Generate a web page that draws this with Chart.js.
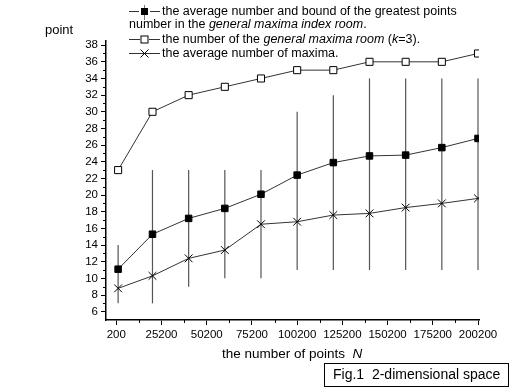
<!DOCTYPE html>
<html>
<head>
<meta charset="utf-8">
<script src="https://cdn.jsdelivr.net/npm/chart.js@4.4.0/dist/chart.umd.min.js"></script>
<style>
  html, body { margin: 0; padding: 0; background: #fff; }
  #wrap { width: 509px; height: 387px; position: relative; }
</style>
</head>
<body>
<div id="wrap"><canvas id="fig"></canvas></div>
<script>
// Data
const nPoints = [1200, 20200, 40200, 60200, 80200, 100200, 120200, 140200, 160200, 180200, 200200];
const roomCount = [23, 30, 32, 33, 34, 35, 35, 36, 36, 36, 37];
const avgGreatest = [11.1, 15.3, 17.2, 18.4, 20.1, 22.4, 23.9, 24.7, 24.8, 25.7, 26.8];
const boundLow = [7, 7, 9, 10, 10, 11, 11, 11, 11, 11, 11];
const boundHigh = [14, 23, 23, 23, 23, 30, 32, 34, 34, 34, 34];
const avgMaxima = [8.8, 10.3, 12.4, 13.4, 16.5, 16.8, 17.6, 17.8, 18.5, 19.0, 19.6];

const xTicks = [200, 25200, 50200, 75200, 100200, 125200, 150200, 175200, 200200];
const xMinorTicks = [12700, 37700, 62700, 87700, 112700, 137700, 162700, 187700];
const yTicks = [6, 8, 10, 12, 14, 16, 18, 20, 22, 24, 26, 28, 30, 32, 34, 36, 38];
const yMinorTicks = [7, 9, 11, 13, 15, 17, 19, 21, 23, 25, 27, 29, 31, 33, 35, 37];

const FONT = '"Liberation Sans", Arial, sans-serif';

function toXY(ys) {
    return nPoints.map((n, i) => ({ x: n, y: ys[i] }));
}

// error bars, drawn under the markers
const errorBars = {
    id: 'errorBars',
    beforeDatasetsDraw(chart) {
        const ctx = chart.ctx;
        const xs = chart.scales.x, ys = chart.scales.y;
        ctx.save();
        ctx.strokeStyle = '#555';
        ctx.lineWidth = 1.2;
        nPoints.forEach((n, i) => {
            const px = xs.getPixelForValue(n);
            ctx.beginPath();
            ctx.moveTo(px, ys.getPixelForValue(boundLow[i]));
            ctx.lineTo(px, ys.getPixelForValue(boundHigh[i]));
            ctx.stroke();
        });
        ctx.restore();
    }
};

// minor ticks, axis title, legend and caption
const decorations = {
    id: 'decorations',
    afterDraw(chart) {
        const ctx = chart.ctx;
        const xs = chart.scales.x, ys = chart.scales.y;
        const area = chart.chartArea;
        ctx.save();
        ctx.strokeStyle = '#000';
        ctx.lineWidth = 1;

        // minor ticks
        ctx.beginPath();
        yMinorTicks.forEach(v => {
            const py = Math.round(ys.getPixelForValue(v)) + 0.5;
            ctx.moveTo(area.left - 3, py);
            ctx.lineTo(area.left, py);
        });
        xMinorTicks.forEach(v => {
            const px = Math.round(xs.getPixelForValue(v)) + 0.5;
            ctx.moveTo(px, area.bottom);
            ctx.lineTo(px, area.bottom + 3);
        });
        ctx.stroke();

        ctx.fillStyle = '#000';
        ctx.textBaseline = 'middle';

        // y title
        ctx.font = '13px ' + FONT;
        ctx.textAlign = 'left';
        ctx.fillText('point', 45, 30);

        // x title
        writeParts(ctx, [['the number of points  ', false], ['N', true]], 222, 354, 13.5);

        // caption box
        ctx.strokeRect(324.5, 363.5, 184, 23);
        writeParts(ctx, [['Fig.1  2-dimensional space', false]], 333, 375, 14);

        // legend
        const mx = 144.5;
        ctx.strokeStyle = '#333';
        // row 1
        line(ctx, 129, 11.5, 139, 11.5);
        line(ctx, 150, 11.5, 160, 11.5);
        ctx.strokeStyle = '#777';
        line(ctx, mx, 5, mx, 20);
        ctx.fillStyle = '#000';
        ctx.fillRect(mx - 3.5, 8, 7, 7);
        writeParts(ctx, [['the average number and bound of the greatest points', false]], 162, 12, 12.5);
        writeParts(ctx, [['number in the ', false], ['general maxima index room', true], ['.', false]], 129, 25, 12.5);
        // row 3
        ctx.strokeStyle = '#333';
        line(ctx, 129, 39.5, 140, 39.5);
        line(ctx, 149, 39.5, 160, 39.5);
        ctx.fillStyle = '#fff';
        ctx.fillRect(mx - 3.5, 36, 7, 7);
        ctx.strokeStyle = '#000';
        ctx.strokeRect(mx - 3.5, 36, 7, 7);
        writeParts(ctx, [['the number of the ', false], ['general maxima room', true], [' (', false], ['k', true], ['=3).', false]], 162, 40, 12.5);
        // row 4
        ctx.strokeStyle = '#333';
        line(ctx, 129, 53.5, 160, 53.5);
        ctx.strokeStyle = '#000';
        line(ctx, mx - 4, 49.5, mx + 4, 57.5);
        line(ctx, mx - 4, 57.5, mx + 4, 49.5);
        writeParts(ctx, [['the average number of maxima.', false]], 162, 54, 12.5);

        ctx.restore();
    }
};

function line(ctx, x1, y1, x2, y2) {
    ctx.beginPath();
    ctx.moveTo(x1, y1);
    ctx.lineTo(x2, y2);
    ctx.stroke();
}

function writeParts(ctx, parts, x, y, size) {
    ctx.textAlign = 'left';
    ctx.textBaseline = 'middle';
    ctx.fillStyle = '#000';
    parts.forEach(p => {
        ctx.font = (p[1] ? 'italic ' : '') + size + 'px ' + FONT;
        ctx.fillText(p[0], x, y);
        x += ctx.measureText(p[0]).width;
    });
}

function seriesStyle(style, radius, fill) {
    return {
        borderColor: '#333',
        borderWidth: 1,
        pointStyle: style,
        pointRadius: radius,
        pointHoverRadius: radius,
        pointBackgroundColor: fill,
        pointBorderColor: '#000',
        pointBorderWidth: 1,
        tension: 0,
        fill: false
    };
}

const ctx = document.getElementById('fig');
new Chart(ctx, {
    type: 'line',
    data: {
        datasets: [
            Object.assign({ label: 'room', data: toXY(roomCount) }, seriesStyle('rect', 5, '#fff')),
            Object.assign({ label: 'greatest', data: toXY(avgGreatest) }, seriesStyle('rect', 4.6, '#000')),
            Object.assign({ label: 'maxima', data: toXY(avgMaxima) }, seriesStyle('crossRot', 5.5, '#000'))
        ]
    },
    options: {
        responsive: true,
        maintainAspectRatio: false,
        animation: false,
        devicePixelRatio: 1,
        layout: { padding: { left: 0, right: 30, top: 41, bottom: 0 } },
        plugins: {
            legend: { display: false },
            tooltip: { enabled: false }
        },
        scales: {
            x: {
                type: 'linear',
                min: -5500,
                max: 200750,
                afterBuildTicks: scale => { scale.ticks = xTicks.map(v => ({ value: v })); },
                afterFit: scale => { scale.height = 67; },
                ticks: {
                    color: '#000',
                    font: { family: FONT, size: 11.5 },
                    padding: 3,
                    maxRotation: 0,
                    autoSkip: false,
                    callback: v => String(v)
                },
                grid: { drawOnChartArea: false, tickLength: 5, color: '#000', tickColor: '#000' },
                border: { color: '#000', width: 1.5 }
            },
            y: {
                type: 'linear',
                min: 5,
                max: 38.5,
                afterBuildTicks: scale => { scale.ticks = yTicks.map(v => ({ value: v })); },
                afterFit: scale => { scale.width = 106; },
                ticks: {
                    color: '#000',
                    font: { family: FONT, size: 11.5 },
                    padding: 3,
                    autoSkip: false,
                    callback: v => String(v)
                },
                grid: { drawOnChartArea: false, tickLength: 5, color: '#000', tickColor: '#000' },
                border: { color: '#000', width: 1.5 }
            }
        }
    },
    plugins: [errorBars, decorations]
});
</script>
</body>
</html>
